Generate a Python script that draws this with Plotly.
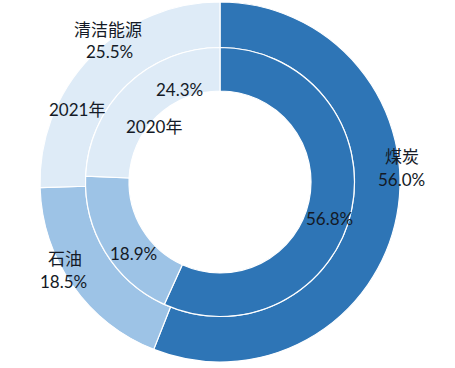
import plotly.graph_objects as go

categories = ["煤炭", "石油", "清洁能源"]
values_2021 = [56.0, 18.5, 25.5]
values_2020 = [56.8, 18.9, 24.3]
years = ["2021年", "2020年"]
colors = ["#2E75B6", "#9DC3E6", "#DEEBF7"]

W, H = 455, 368
cx, cy = 220, 182
R_out, R_mid, R_hole = 180, 134.5, 91


def dom(r):
    return dict(x=[(cx - r) / W, (cx + r) / W],
                y=[(H - cy - r) / H, (H - cy + r) / H])


fig = go.Figure()
fig.add_trace(go.Pie(labels=categories, values=values_2021, sort=False,
                     direction="clockwise", rotation=0, hole=R_mid / R_out,
                     domain=dom(R_out), textinfo="none", hoverinfo="label+percent",
                     marker=dict(colors=colors, line=dict(color="white", width=1.2)),
                     showlegend=False))
fig.add_trace(go.Pie(labels=categories, values=values_2020, sort=False,
                     direction="clockwise", rotation=0, hole=R_hole / R_mid,
                     domain=dom(R_mid), textinfo="none", hoverinfo="label+percent",
                     marker=dict(colors=colors, line=dict(color="white", width=1.2)),
                     showlegend=False))

txt_color = "#141a26"
num_font = dict(family="Lato, Noto Sans CJK SC", size=17, color=txt_color)
cjk_font = dict(family="Noto Sans CJK SC", size=17, color=txt_color)

# label positions (pixels)
outer_name_pos = [(402, 155), (65, 257), (108, 28)]
outer_pct_pos = [(401, 180), (63, 281), (109, 51)]
inner_pct_pos = [(329, 218), (133, 254), (179, 89)]
year_pos = [(77, 109), (154, 127)]

ann = []


def add(text, pos, font):
    ann.append(dict(text=text, x=pos[0] / W, y=1 - pos[1] / H, xref="paper", yref="paper",
                    showarrow=False, xanchor="center", yanchor="middle", font=font))


for c, p in zip(categories, outer_name_pos):
    add(c, p, cjk_font)
for v, p in zip(values_2021, outer_pct_pos):
    add(f"{v:.1f}%", p, num_font)
for v, p in zip(values_2020, inner_pct_pos):
    add(f"{v:.1f}%", p, num_font)
for y, p in zip(years, year_pos):
    add(y, p, num_font)

fig.update_layout(width=W, height=H, margin=dict(l=0, r=0, t=0, b=0),
                  paper_bgcolor="white", plot_bgcolor="white", annotations=ann)
fig.write_html("out.html", config={"displayModeBar": False},
               post_script="document.body.style.margin='0';")
